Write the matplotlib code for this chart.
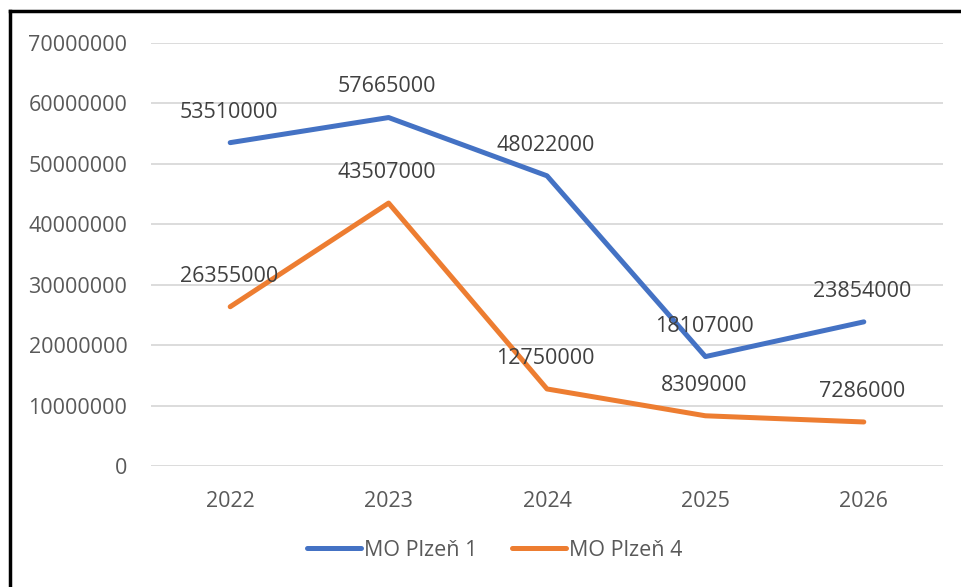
import matplotlib.pyplot as plt
from matplotlib.lines import Line2D

years = ["2022", "2023", "2024", "2025", "2026"]
plzen1 = [53510000, 57665000, 48022000, 18107000, 23854000]
plzen4 = [26355000, 43507000, 12750000, 8309000, 7286000]
yticks = [0, 10000000, 20000000, 30000000, 40000000, 50000000, 60000000, 70000000]

plt.rcParams['font.family'] = ['Open Sans', 'DejaVu Sans']

fig = plt.figure(figsize=(9.62, 5.87), dpi=100)
ax = fig.add_axes([151 / 962, 1 - 466 / 587, (943 - 151) / 962, (466 - 43) / 587])

x = list(range(len(years)))
ax.plot(x, plzen1, color="#4472C4", lw=3.6, solid_capstyle="round", label="MO Plzeň 1")
ax.plot(x, plzen4, color="#ED7D31", lw=3.6, solid_capstyle="round", label="MO Plzeň 4")

for series in (plzen1, plzen4):
    for xi, v in zip(x, series):
        ax.annotate(str(v), (xi, v), xytext=(-1, 22), textcoords="offset points",
                    ha="center", va="center", fontsize=15.5, color="#404040")

ax.set_xlim(-0.5, 4.5)
ax.set_ylim(0, 70000000)
ax.set_yticks(yticks)
ax.set_yticklabels([str(t) for t in yticks])
ax.set_xticks(x)
ax.set_xticklabels(years)
ax.tick_params(length=0, labelsize=15.5, colors="#595959")
ax.tick_params(axis="y", pad=17)
ax.tick_params(axis="x", pad=18)
for s in ax.spines.values():
    s.set_visible(False)
ax.grid(axis="y", color="#D9D9D9", lw=1.3)
ax.set_axisbelow(True)

ax.legend(loc="center", bbox_to_anchor=(0.5 + 14 / 962, (587 - 550) / 587), bbox_transform=fig.transFigure,
          ncol=2, frameon=False, fontsize=15.5, labelcolor="#595959", handlelength=2.5,
          handletextpad=0.15, columnspacing=1.6)

# black frame on top and left
fig.add_artist(Line2D([9.5 / 962, 9.5 / 962], [0, 1 - 11 / 587], color="black", lw=2.5,
                      transform=fig.transFigure))
fig.add_artist(Line2D([9.5 / 962, 1], [1 - 11 / 587, 1 - 11 / 587], color="black", lw=2.5,
                      transform=fig.transFigure))

fig.savefig("out.png", dpi=100)
